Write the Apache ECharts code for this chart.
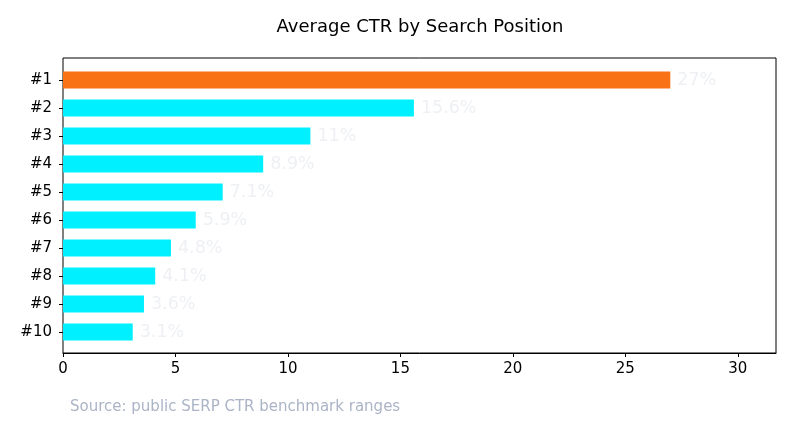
<!DOCTYPE html>
<html>
<head>
<meta charset="utf-8">
<script src="https://cdn.jsdelivr.net/npm/echarts@6/dist/echarts.min.js"></script>
<style>
  html, body { margin: 0; padding: 0; background: #fff; }
  #chart { width: 796px; height: 435px; }
</style>
</head>
<body>
<div id="chart"></div>
<script>
// data
var positions = ['#1', '#2', '#3', '#4', '#5', '#6', '#7', '#8', '#9', '#10'];
var ctrValues = [27, 15.6, 11, 8.9, 7.1, 5.9, 4.8, 4.1, 3.6, 3.1];
var barColors = ['#f97316', '#00f0ff'];   // top spot, the rest
var xMax = 31.7;

var myChart = echarts.init(document.getElementById('chart'));
var font = 'DejaVu Sans';

var barData = [];
for (var i = 0; i < ctrValues.length; i++) {
    barData.push({
        value: ctrValues[i],
        itemStyle: { color: i === 0 ? barColors[0] : barColors[1] }
    });
}

var option = {
    animation: false,
    graphic: [
        {
            type: 'text', x: 420, y: 27,
            style: { text: 'Average CTR by Search Position', fontFamily: font, fontSize: 18,
                fill: '#000', align: 'center', verticalAlign: 'middle' }
        },
        {
            type: 'text', x: 70, y: 407,
            style: { text: 'Source: public SERP CTR benchmark ranges', fontFamily: font, fontSize: 15,
                fill: '#abb4c6', verticalAlign: 'middle' }
        }
    ],
    // grid 0 = the frame + x ticks, grid 1 = the bars (inset like matplotlib margins)
    grid: [
        { left: 63, right: 20, top: 58, bottom: 82, show: true, borderColor: '#000', borderWidth: 1, backgroundColor: 'transparent' },
        { left: 63, right: 20, top: 66, bottom: 89 }
    ],
    xAxis: [
        {
            gridIndex: 0, type: 'value', min: 0, max: xMax, interval: 5,
            axisLine: { show: true, lineStyle: { color: '#000' } },
            axisTick: { show: true, length: 4, lineStyle: { color: '#000' } },
            axisLabel: { show: true, fontFamily: font, fontSize: 15, color: '#000', margin: 9,
                showMaxLabel: false },
            splitLine: { show: false }
        },
        {
            gridIndex: 1, type: 'value', min: 0, max: xMax,
            show: false, splitLine: { show: false }
        }
    ],
    yAxis: [
        {
            gridIndex: 0, type: 'value', min: 0, max: 1, show: false, splitLine: { show: false }
        },
        {
            gridIndex: 1, type: 'category', data: positions, inverse: true,
            axisLine: { show: false },
            axisTick: { show: true, alignWithLabel: true, length: 4, lineStyle: { color: '#000' } },
            axisLabel: { fontFamily: font, fontSize: 15, color: '#000', margin: 11 }
        }
    ],
    series: [{
        type: 'bar',
        xAxisIndex: 1, yAxisIndex: 1,
        data: barData,
        barWidth: 17,
        label: {
            show: true, position: 'right', distance: 7,
            fontFamily: font, fontSize: 17.5, color: '#eef0f4',
            formatter: function (p) { return p.value + '%'; }
        }
    }]
};
myChart.setOption(option);
</script>
</body>
</html>
